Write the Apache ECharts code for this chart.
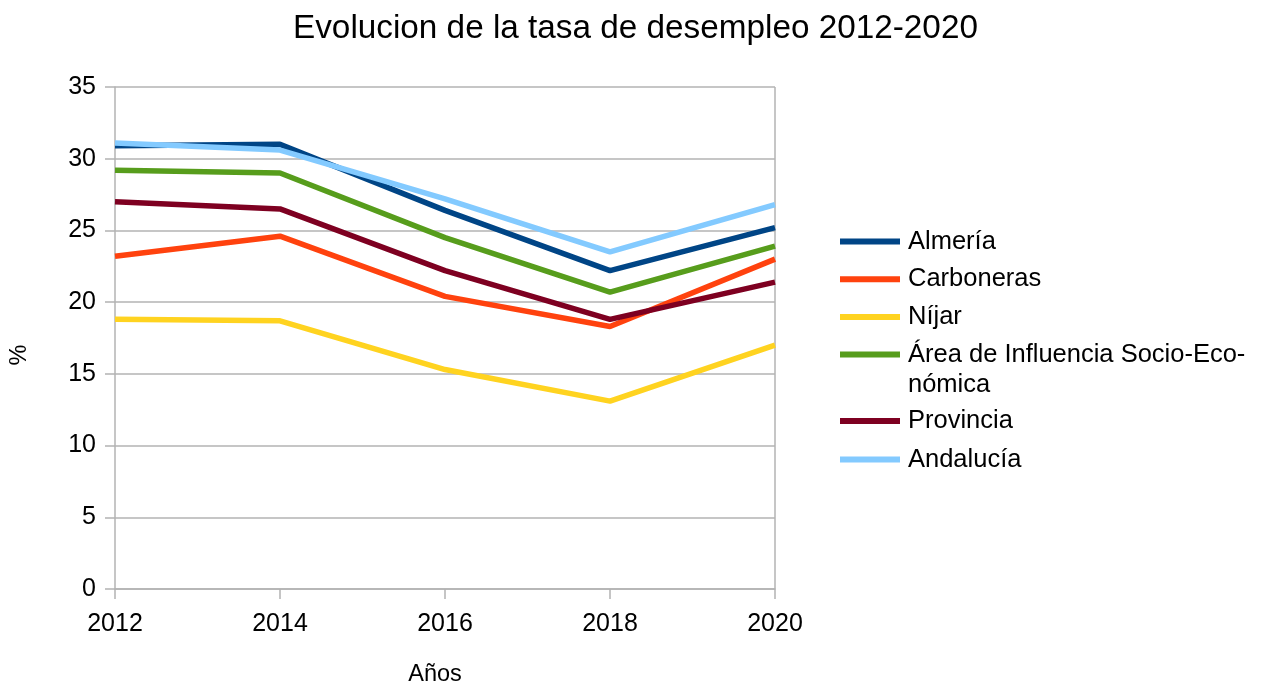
<!DOCTYPE html>
<html>
<head>
<meta charset="utf-8">
<title>Evolucion de la tasa de desempleo 2012-2020</title>
<script src="https://cdn.jsdelivr.net/npm/echarts@6/dist/echarts.min.js"></script>
<style>
  html, body { margin: 0; padding: 0; background: #fff; }
  #chart { width: 1265px; height: 684px; }
</style>
</head>
<body>
<div id="chart"></div>
<script>
// datos
var years = ['2012', '2014', '2016', '2018', '2020']
var almeria = [30.9, 31.0, 26.4, 22.2, 25.2]
var carboneras = [23.2, 24.6, 20.4, 18.3, 23.0]
var nijar = [18.8, 18.7, 15.3, 13.1, 17.0]
var areaInfluencia = [29.2, 29.0, 24.5, 20.7, 23.9]
var provincia = [27.0, 26.5, 22.2, 18.8, 21.4]
var andalucia = [31.1, 30.6, 27.2, 23.5, 26.8]
var yTicks = { min: 0, max: 35, interval: 5 }

var font = 'Liberation Sans, Arial, sans-serif'
var gridColor = '#b3b3b3'

var areaName = 'Área de Influencia Socio-Económica'

function serie(name, data, color) {
  return {
    name: name,
    type: 'line',
    data: data,
    symbol: 'none',
    lineStyle: { width: 5.5, color: color },
    itemStyle: { color: color },
    z: 3
  }
}

var legendText = { fontFamily: font, fontSize: 25.5, color: '#000', padding: [0, 0, 0, 3] }

var myChart = echarts.init(document.getElementById('chart'))

var option = {
  animation: false,
  title: {
    text: 'Evolucion de la tasa de desempleo 2012-2020',
    left: 288,
    top: 7,
    textStyle: { fontFamily: font, fontSize: 33.3, fontWeight: 'normal', color: '#000' }
  },
  // leyenda partida en dos para que el texto de dos lineas quede alineado
  legend: [
    {
      orient: 'vertical',
      left: 840,
      top: 228.5,
      padding: 0,
      itemGap: 11.7,
      itemWidth: 60,
      itemHeight: 6,
      icon: 'rect',
      textStyle: legendText,
      formatter: function (name) {
        return name === areaName ? 'Área de Influencia Socio-Eco-' : name
      },
      data: ['Almería', 'Carboneras', 'Níjar', areaName]
    },
    {
      orient: 'vertical',
      left: 840,
      top: 408,
      padding: 0,
      itemGap: 12.5,
      itemWidth: 60,
      itemHeight: 6,
      icon: 'rect',
      textStyle: legendText,
      data: ['Provincia', 'Andalucía']
    }
  ],
  graphic: [
    {
      type: 'text',
      left: 908,
      top: 372,
      style: { text: 'nómica', fontFamily: font, fontSize: 25.5, fill: '#000' }
    }
  ],
  grid: { left: 115, right: 490, top: 87, bottom: 95, outerBoundsMode: 'none', containLabel: false },
  xAxis: {
    type: 'category',
    data: years,
    boundaryGap: false,
    name: 'Años',
    nameLocation: 'middle',
    nameGap: 74,
    nameMoveOverlap: false,
    nameTextStyle: { fontFamily: font, fontSize: 23.5, color: '#000', padding: [0, 20, 0, 0] },
    axisLine: { lineStyle: { color: gridColor, width: 1.5 } },
    axisTick: { length: 10, lineStyle: { color: gridColor, width: 1.5 } },
    axisLabel: { fontFamily: font, fontSize: 25, color: '#000', margin: 23 },
    splitLine: {
      show: true,
      interval: function (index) { return index === years.length - 1 },
      lineStyle: { color: gridColor, width: 1.5 }
    }
  },
  yAxis: {
    type: 'value',
    min: yTicks.min,
    max: yTicks.max,
    interval: yTicks.interval,
    name: '%',
    nameLocation: 'middle',
    nameGap: 83,
    nameRotate: 90,
    nameMoveOverlap: false,
    nameTextStyle: { fontFamily: font, fontSize: 23.5, color: '#000', padding: [0, 34, 0, 0] },
    axisLine: { show: true, lineStyle: { color: gridColor, width: 1.5 } },
    axisTick: { show: true, length: 10, lineStyle: { color: gridColor, width: 1.5 } },
    axisLabel: { fontFamily: font, fontSize: 25, color: '#000', margin: 19 },
    splitLine: { lineStyle: { color: gridColor, width: 1.5 } }
  },
  series: [
    serie('Almería', almeria, '#004586'),
    serie('Carboneras', carboneras, '#ff420e'),
    serie('Níjar', nijar, '#ffd320'),
    serie(areaName, areaInfluencia, '#579d1c'),
    serie('Provincia', provincia, '#7e0021'),
    serie('Andalucía', andalucia, '#83caff')
  ]
}

myChart.setOption(option)
</script>
</body>
</html>
